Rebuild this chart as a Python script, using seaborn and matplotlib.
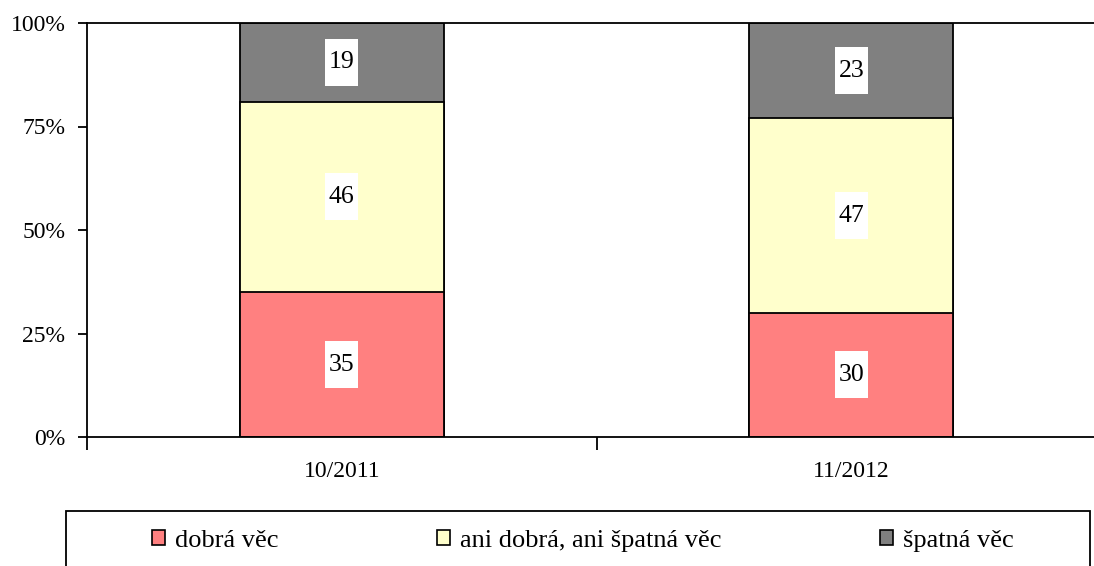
import numpy as np
import matplotlib
matplotlib.use("Agg")
import matplotlib.pyplot as plt
from matplotlib.patches import Rectangle, Patch
import seaborn as sns

# Data
periods = ["10/2011", "11/2012"]
series = ["dobrá věc", "ani dobrá, ani špatná věc", "špatná věc"]
good = [35, 30]
neutral = [46, 47]
bad = [19, 23]
colors = ["#FF8080", "#FFFFCC", "#808080"]

sns.set_theme(style="white")
plt.rcParams["font.family"] = ["Liberation Serif", "DejaVu Serif"]
plt.rcParams["text.color"] = "black"
plt.rcParams["xtick.color"] = "black"
plt.rcParams["ytick.color"] = "black"
FS = 17

fig = plt.figure(figsize=(10.94, 5.66), dpi=100)
ax = fig.add_axes([87 / 1094, 1 - 437 / 566, (1106 - 87) / 1094, (437 - 23) / 566])

layers = [good, neutral, bad]
tops = np.cumsum(np.array(layers), axis=0)

# draw stacked bars from top layer down so each covers the one above
for i in range(len(layers) - 1, -1, -1):
    sns.barplot(x=periods, y=tops[i], color=colors[i], width=0.4,
                edgecolor="black", linewidth=1.3, saturation=1, ax=ax)

# value labels on white boxes
bw, bh = 0.065, 11.4
for i, vals in enumerate(layers):
    for j, v in enumerate(vals):
        yc = tops[i][j] - v / 2
        ax.add_patch(Rectangle((j - bw / 2, yc - bh / 2), bw, bh,
                               facecolor="white", edgecolor="none", zorder=5))
        ax.text(j, yc, str(v), ha="center", va="center", fontsize=18.5,
                color="black", zorder=6)

ax.set_xlim(-0.5, 1.5)
ax.set_ylim(0, 100)
ax.set_yticks([0, 25, 50, 75, 100])
ax.set_yticklabels(["0%", "25%", "50%", "75%", "100%"], fontsize=FS)
ax.set_xticks([0, 1])
ax.set_xticklabels(periods, fontsize=FS)
ax.set_xticks([-0.5, 0.5, 1.5], minor=True)
ax.tick_params(axis="x", which="major", length=0, pad=17)
ax.tick_params(axis="x", which="minor", length=9, width=1.3, color="black", direction="out", bottom=True)
ax.tick_params(axis="y", length=6.5, width=1.3, color="black", direction="out", left=True, pad=9)
ax.set_xlabel("")
ax.set_ylabel("")
for s in ["left", "bottom", "top"]:
    ax.spines[s].set_color("black")
    ax.spines[s].set_linewidth(1.3)
ax.spines["right"].set_visible(False)
ax.grid(False)

# legend box
fig.add_artist(Rectangle((66 / 1094, -0.05), (1090 - 66) / 1094, 0.05 + 1 - 511 / 566,
                         transform=fig.transFigure, facecolor="none", edgecolor="black",
                         linewidth=1.3, clip_on=False))
handles = [Patch(facecolor=c, edgecolor="black", linewidth=1.2) for c in colors]
fig.legend(handles, series, loc="center", bbox_to_anchor=(583 / 1094, 1 - 541 / 566),
           ncol=3, frameon=False, fontsize=19, handlelength=0.5, handleheight=0.5,
           handletextpad=0.38, columnspacing=6.0)

fig.savefig("out.png", dpi=100)
